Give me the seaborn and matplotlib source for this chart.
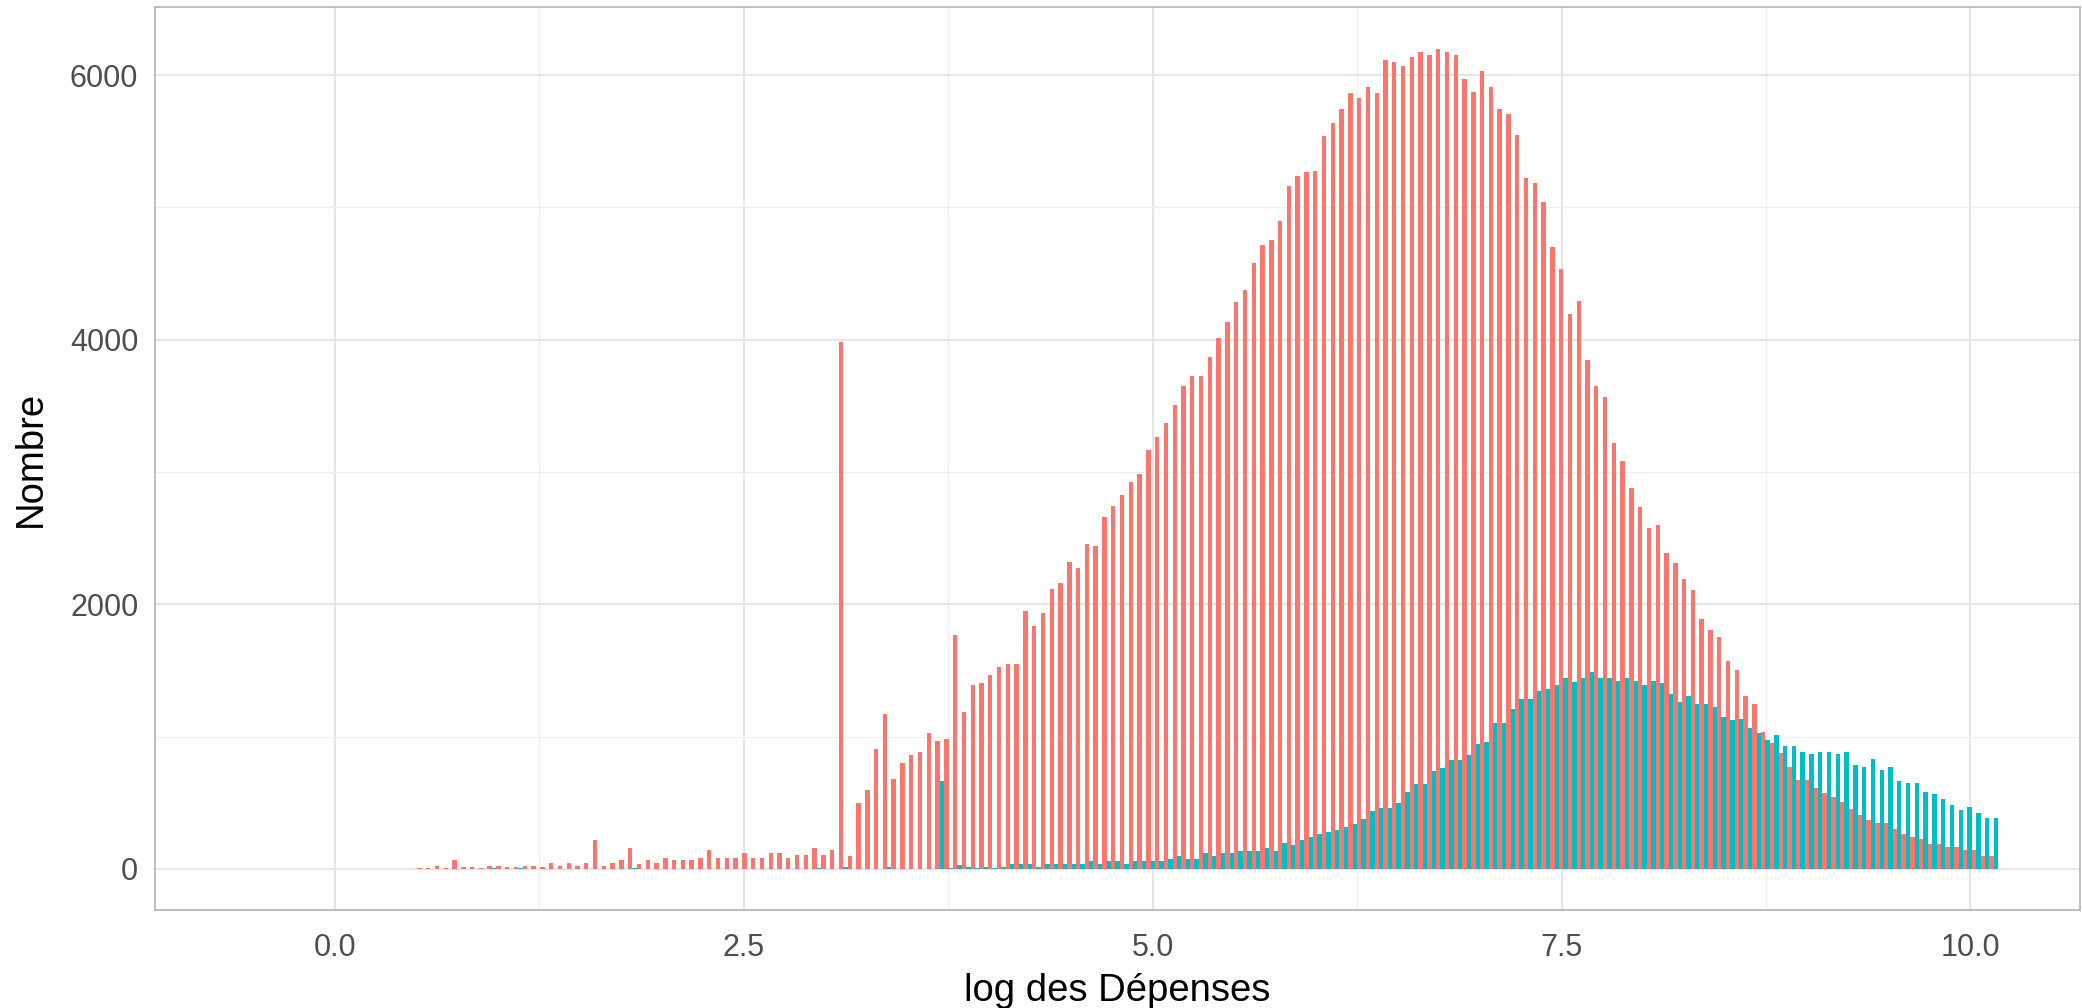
import numpy as np
import pandas as pd
import matplotlib
matplotlib.use("Agg")
import matplotlib.pyplot as plt
import seaborn as sns

# ---------------- data ----------------
# histogram bins: first bin centre and common width (180 bins)
bin_start = 0.530
bin_width = 0.0537
n_bins = 180

groups = ["groupe 1", "groupe 2"]
colors = ["#F8766D", "#00BFC4"]

counts_g1 = [
    5, 5, 20, 8, 66, 15, 15, 10, 20, 20,
    15, 15, 20, 20, 15, 45, 20, 45, 20, 45,
    222, 20, 45, 66, 161, 40, 66, 45, 86, 66,
    66, 66, 86, 141, 86, 86, 86, 123, 86, 86,
    123, 123, 86, 103, 103, 161, 103, 141, 3980, 100,
    500, 600, 904, 1169, 682, 803, 861, 884, 1025, 967,
    985, 1770, 1187, 1389, 1409, 1467, 1530, 1548, 1548, 1952,
    1833, 1934, 2116, 2159, 2318, 2275, 2457, 2439, 2664, 2740,
    2823, 2924, 2982, 3164, 3263, 3368, 3506, 3649, 3728, 3728,
    3866, 4012, 4131, 4289, 4376, 4578, 4716, 4756, 4894, 5159,
    5238, 5265, 5277, 5542, 5641, 5744, 5865, 5827, 5908, 5868,
    6115, 6097, 6072, 6135, 6173, 6155, 6196, 6173, 6155, 5970,
    5872, 6030, 5908, 5747, 5708, 5545, 5222, 5183, 5044, 4700,
    4538, 4195, 4295, 3850, 3651, 3568, 3222, 3083, 2878, 2739,
    2577, 2601, 2392, 2313, 2194, 2107, 1890, 1810, 1751, 1569,
    1502, 1310, 1248, 1033, 950, 874, 774, 673, 673, 610,
    572, 547, 509, 451, 408, 370, 350, 345, 305, 265,
    244, 224, 186, 186, 164, 164, 144, 144, 101, 101,
]

counts_g2 = [
    0, 0, 0, 0, 0, 0, 0, 0, 5, 0,
    0, 5, 0, 0, 0, 0, 0, 0, 0, 0,
    0, 0, 0, 0, 8, 0, 0, 0, 0, 0,
    0, 0, 0, 0, 0, 0, 0, 0, 0, 0,
    0, 0, 0, 0, 0, 8, 0, 0, 15, 3,
    0, 0, 3, 13, 3, 3, 3, 3, 3, 664,
    8, 33, 13, 8, 13, 8, 18, 38, 38, 38,
    18, 38, 38, 38, 38, 38, 58, 38, 58, 58,
    38, 58, 58, 58, 58, 78, 98, 78, 78, 118,
    98, 118, 118, 139, 139, 139, 159, 139, 200, 180,
    218, 238, 262, 281, 297, 318, 338, 377, 438, 461,
    461, 501, 580, 641, 641, 741, 763, 821, 821, 863,
    945, 963, 1105, 1103, 1206, 1285, 1285, 1344, 1364, 1388,
    1443, 1411, 1443, 1490, 1443, 1443, 1419, 1443, 1419, 1388,
    1423, 1403, 1324, 1265, 1304, 1245, 1245, 1221, 1146, 1127,
    1130, 1068, 1025, 975, 1013, 930, 930, 887, 869, 887,
    887, 869, 887, 789, 769, 829, 748, 769, 665, 648,
    648, 585, 567, 527, 484, 446, 466, 426, 383, 383,
]

x_ticks = [0.0, 2.5, 5.0, 7.5, 10.0]
x_tick_labels = ["0.0", "2.5", "5.0", "7.5", "10.0"]
y_ticks = [0, 2000, 4000, 6000]
y_tick_labels = ["0", "2000", "4000", "6000"]

# ---------------- build table ----------------
centres = bin_start + bin_width * np.arange(n_bins)
lo_edge = bin_start - bin_width / 2
hi_edge = lo_edge + bin_width * n_bins
df = pd.concat([
    pd.DataFrame({"log_dep": centres, "n": counts_g1, "groupe": groups[0]}),
    pd.DataFrame({"log_dep": centres, "n": counts_g2, "groupe": groups[1]}),
], ignore_index=True)

# ---------------- style ----------------
sns.set_style("white")
plt.rcParams["font.family"] = ["Liberation Sans", "DejaVu Sans"]

fig = plt.figure(figsize=(20.82, 10.08), dpi=100)
W, H = 2082, 1008
left, right, top, bottom = 155, 2080, 7, 910
ax = fig.add_axes([left / W, (H - bottom) / H, (right - left) / W, (bottom - top) / H])

sns.histplot(
    data=df, x="log_dep", weights="n", hue="groupe", hue_order=groups,
    palette=colors, binwidth=bin_width, binrange=(lo_edge, hi_edge),
    multiple="dodge", shrink=1.0,
    element="bars", fill=True, alpha=1.0, linewidth=0, edgecolor="none",
    legend=False, ax=ax,
)

ax.set_xlim(-1.10, 10.67)
ax.set_ylim(-310, 6515)

ax.set_axisbelow(True)
ax.set_xticks(x_ticks)
ax.set_xticklabels(x_tick_labels)
ax.set_yticks(y_ticks)
ax.set_yticklabels(y_tick_labels)
ax.set_xticks([1.25, 3.75, 6.25, 8.75], minor=True)
ax.set_yticks([1000, 3000, 5000], minor=True)
ax.grid(which="major", color="#E3E3E3", linewidth=1.3)
ax.grid(which="minor", color="#EFEFEF", linewidth=0.9)

for s in ax.spines.values():
    s.set_color("#B3B3B3")
    s.set_linewidth(1.2)
    s.set_visible(True)

ax.tick_params(axis="both", which="major", length=8, width=1.1, color="#B3B3B3",
               labelsize=22, labelcolor="#4D4D4D", pad=4)
ax.tick_params(axis="x", which="major", pad=8.5)
ax.tick_params(axis="both", which="minor", length=0)

ax.set_xlabel("log des Dépenses", fontsize=27.5, color="black", labelpad=7)
ax.set_ylabel("Nombre", fontsize=27.5, color="black", labelpad=15)

fig.savefig("out.png", dpi=100)
